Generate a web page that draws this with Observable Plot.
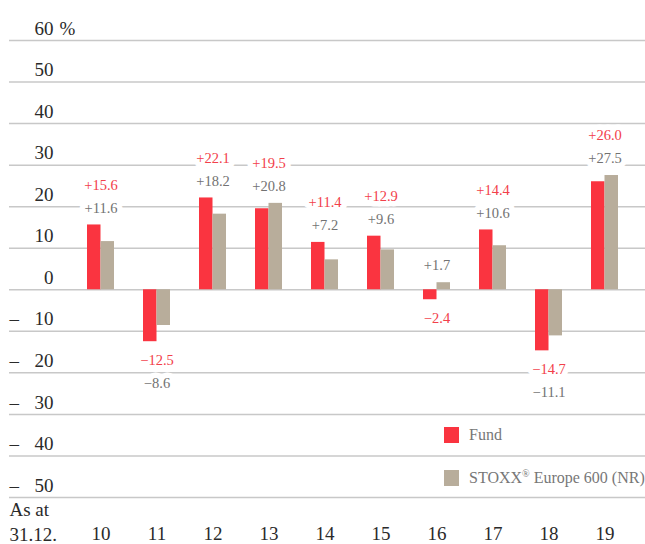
<!DOCTYPE html>
<html><head><meta charset="utf-8">
<script src="https://cdn.jsdelivr.net/npm/d3@7"></script>
<script src="https://cdn.jsdelivr.net/npm/@observablehq/plot@0.6"></script>
<style>
body{margin:0;background:#fff;}
#wrap{position:relative;width:645px;height:544px;font-family:"Liberation Serif","DejaVu Serif",serif;}
#wrap svg, #wrap svg text{font-family:"Liberation Serif","DejaVu Serif",serif !important;}
.legend{position:absolute;left:444px;color:#777;font-size:16px;display:flex;align-items:center;line-height:16px;white-space:nowrap;}
.sw{width:15px;height:16px;margin-right:10px;}
.legend sup{font-size:10px;line-height:0;vertical-align:6px;}
</style></head>
<body><div id="wrap"></div>
<script>
const years = ["10","11","12","13","14","15","16","17","18","19"];
const fundValues  = [15.6, -12.5, 22.1, 19.5, 11.4, 12.9, -2.4, 14.4, -14.7, 26.0];
const benchValues = [11.6, -8.6, 18.2, 20.8, 7.2, 9.6, 1.7, 10.6, -11.1, 27.5];
const seriesNames = ["Fund", "STOXX® Europe 600 (NR)"];
const yTicks = [-50, -40, -30, -20, -10, 0, 10, 20, 30, 40, 50, 60];

const FONT = '"Liberation Serif", "DejaVu Serif", serif';
const fundColor = "#fa3440", benchColor = "#b8ad9b";
const fundLabelColor = "#f2404a", benchLabelColor = "#727272";
const tickColor = "#2a2a2a";

const fundRows = years.map((y, i) => ({year: y, value: fundValues[i], series: seriesNames[0]}));
const benchRows = years.map((y, i) => ({year: y, value: benchValues[i], series: seriesNames[1]}));

const fmt = v => v >= 0 ? "+" + v.toFixed(1) : "\u2212" + Math.abs(v).toFixed(1);

// label placement: stacked above positives (fund outermost), below negatives (fund innermost)
const labels = [];
years.forEach((y, i) => {
  const items = [{series: "fund", value: fundValues[i]}, {series: "bench", value: benchValues[i]}];
  const pos = items.filter(d => d.value >= 0), neg = items.filter(d => d.value < 0);
  if (pos.length) {
    const anchor = d3.max(pos, d => d.value);
    pos.forEach((d, k) => labels.push({year: y, anchor, label: fmt(d.value), series: d.series,
      slot: pos.length === 2 && k === 0 ? "posOuter" : "posInner"}));
  }
  if (neg.length) {
    const anchor = d3.min(neg, d => d.value);
    neg.forEach((d, k) => labels.push({year: y, anchor, label: fmt(d.value), series: d.series,
      slot: k === 0 ? "negInner" : "negOuter"}));
  }
});
const slotDy = {posOuter: -40, posInner: -17, negInner: 19, negOuter: 42};

const labelMarks = [];
for (const ser of ["bench", "fund"]) {
  for (const slot of Object.keys(slotDy)) {
    const data = labels.filter(d => d.series === ser && d.slot === slot);
    if (!data.length) continue;
    labelMarks.push(Plot.text(data, {
      x: "year", y: "anchor", text: "label", dy: slotDy[slot],
      fill: ser === "fund" ? fundLabelColor : benchLabelColor,
      fontSize: 14.5, fontFamily: FONT, lineAnchor: "middle",
      stroke: "white", strokeWidth: 11, strokeLinejoin: "round", paintOrder: "stroke"
    }));
  }
}

const tickText = {frameAnchor: "left", dy: -12, lineAnchor: "middle", fontSize: 19, fontFamily: FONT, fill: tickColor};

const chart = Plot.plot({
  width: 645, height: 544,
  marginLeft: 9, marginRight: 0, marginTop: 40, marginBottom: 47,
  style: {fontFamily: FONT, background: "white"},
  x: {type: "band", domain: years, range: [69.7, 635.3], paddingInner: 0.52, paddingOuter: 0.26},
  y: {domain: [-50, 60], axis: null},
  marks: [
    Plot.ruleY(yTicks, {stroke: "#c8c8c8", strokeWidth: 1.5}),
    Plot.barY(fundRows, {x: "year", y: "value", fill: fundColor, insetRight: 13.5}),
    Plot.barY(benchRows, {x: "year", y: "value", fill: benchColor, insetLeft: 13.5}),
    ...labelMarks,
    Plot.text(yTicks, {...tickText, y: d => d, text: d => String(Math.abs(d)), dx: 44, textAnchor: "end"}),
    Plot.text(yTicks.filter(d => d < 0), {...tickText, y: d => d, text: () => "\u2013", dx: 0, textAnchor: "start"}),
    Plot.text([60], {...tickText, y: d => d, text: () => "%", dx: 50, textAnchor: "start"}),
    Plot.axisX({tickSize: 0, tickPadding: 29, fontSize: 19, fontFamily: FONT, color: tickColor, label: null}),
    Plot.text(["As at"], {text: d => d, frameAnchor: "bottom-left", dy: 12, textAnchor: "start",
      lineAnchor: "middle", fontSize: 19, fontFamily: FONT, fill: tickColor}),
    Plot.text(["31.12."], {text: d => d, frameAnchor: "bottom-left", dy: 37, textAnchor: "start",
      lineAnchor: "middle", fontSize: 19, fontFamily: FONT, fill: tickColor})
  ]
});

const wrap = document.getElementById("wrap");
wrap.appendChild(chart);
const legendItems = [
  {name: "Fund", color: fundColor, top: 427},
  {name: "STOXX<sup>®</sup> Europe 600 (NR)", color: benchColor, top: 470}
];
legendItems.forEach(it => {
  const el = document.createElement("div");
  el.className = "legend";
  el.style.top = it.top + "px";
  el.innerHTML = `<div class="sw" style="background:${it.color}"></div><span>${it.name}</span>`;
  wrap.appendChild(el);
});
</script></body></html>
